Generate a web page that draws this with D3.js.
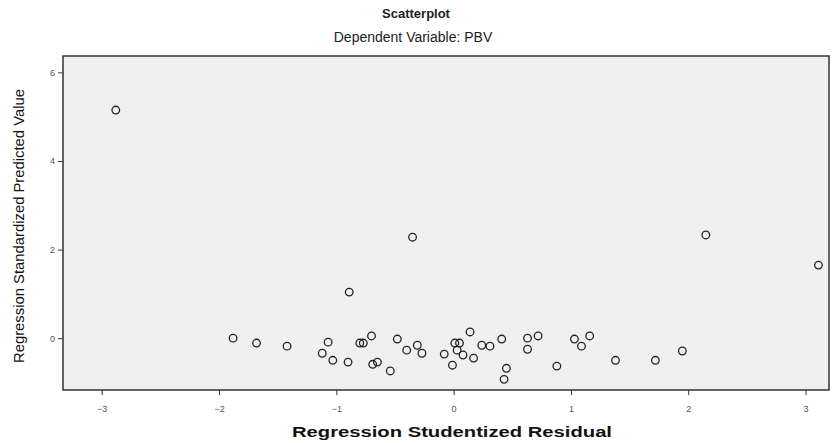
<!DOCTYPE html>
<html>
<head>
<meta charset="utf-8">
<script src="https://cdn.jsdelivr.net/npm/d3@7"></script>
<style>
  body { margin: 0; background: #fff; }
  text { font-family: "Liberation Sans", Arial, sans-serif; }
</style>
</head>
<body>
<svg id="chart" width="833" height="443"></svg>
<script>
var width = 833,
    height = 443;

// residuals (x) and predicted values (y)
var residuals = [-2.88, -0.35, 2.15, 3.11, -0.89,
    -1.88, -1.68, -1.42, -1.07, -1.12, -1.03, -0.90, -0.80, -0.77, -0.70,
    -0.69, -0.65, -0.54, -0.48, -0.40, -0.31, -0.27, -0.08, 0.01, -0.01,
    0.03, 0.08, 0.14, 0.05, 0.17, 0.24, 0.31, 0.41, 0.45, 0.43,
    0.63, 0.72, 0.63, 0.88, 1.03, 1.09, 1.16, 1.38, 1.72, 1.95];
var predicted = [5.15, 2.28, 2.33, 1.65, 1.04,
    0.00, -0.11, -0.18, -0.09, -0.34, -0.50, -0.54, -0.11, -0.11, 0.05,
    -0.59, -0.54, -0.74, -0.02, -0.27, -0.16, -0.34, -0.36, -0.11, -0.61,
    -0.27, -0.38, 0.14, -0.11, -0.45, -0.16, -0.18, -0.02, -0.68, -0.93,
    0.00, 0.05, -0.25, -0.63, -0.02, -0.18, 0.05, -0.50, -0.50, -0.29];

var xTicks = [-3, -2, -1, 0, 1, 2, 3];
var yTicks = [0, 2, 4, 6];

var points = residuals.map(function (d, i) {
    return { x: d, y: predicted[i] };
});

var plot = { left: 63, right: 829, top: 56, bottom: 390 };

var x = d3.scaleLinear().domain([-3.33, 3.2]).range([plot.left, plot.right]);
var y = d3.scaleLinear().domain([-1.17, 6.37]).range([plot.bottom, plot.top]);

var svg = d3.select('#chart');

svg.append('rect')
    .attr('x', plot.left)
    .attr('y', plot.top)
    .attr('width', plot.right - plot.left)
    .attr('height', plot.bottom - plot.top)
    .attr('fill', '#f0f0f0')
    .attr('stroke', '#333')
    .attr('stroke-width', 1.5);

// titles
svg.append('text')
    .attr('x', 416).attr('y', 18)
    .attr('text-anchor', 'middle')
    .attr('font-size', 13).attr('font-weight', 'bold')
    .attr('fill', '#222')
    .text('Scatterplot');

svg.append('text')
    .attr('x', 413).attr('y', 42)
    .attr('text-anchor', 'middle')
    .attr('font-size', 14)
    .attr('fill', '#222')
    .text('Dependent Variable: PBV');

// axes
var xAxis = d3.axisBottom(x).tickValues(xTicks).tickSize(5).tickSizeOuter(0)
    .tickFormat(d3.format('d'));
var gx = svg.append('g')
    .attr('transform', 'translate(0,' + plot.bottom + ')')
    .call(xAxis);
gx.select('.domain').remove();
gx.selectAll('line').attr('stroke', '#333');
gx.selectAll('text').attr('font-size', 9).attr('fill', '#555').attr('dy', '1.5em');

var yAxis = d3.axisLeft(y).tickValues(yTicks).tickSize(5).tickSizeOuter(0)
    .tickFormat(d3.format('d'));
var gy = svg.append('g')
    .attr('transform', 'translate(' + plot.left + ',0)')
    .call(yAxis);
gy.select('.domain').remove();
gy.selectAll('line').attr('stroke', '#333');
gy.selectAll('text').attr('font-size', 9).attr('fill', '#555');

svg.append('text')
    .attr('x', 452).attr('y', 437)
    .attr('text-anchor', 'middle')
    .attr('font-size', 14).attr('font-weight', 'bold')
    .attr('textLength', 320)
    .attr('lengthAdjust', 'spacingAndGlyphs')
    .attr('fill', '#111')
    .text('Regression Studentized Residual');

svg.append('text')
    .attr('transform', 'translate(24,226) rotate(-90)')
    .attr('text-anchor', 'middle')
    .attr('font-size', 14)
    .attr('textLength', 274)
    .attr('lengthAdjust', 'spacingAndGlyphs')
    .attr('fill', '#111')
    .style('font-family', '"Liberation Sans Narrow", "Liberation Sans", sans-serif')
    .text('Regression Standardized Predicted Value');

// points
svg.append('g')
    .selectAll('circle')
    .data(points)
    .enter()
    .append('circle')
    .attr('cx', function (d) { return x(d.x); })
    .attr('cy', function (d) { return y(d.y); })
    .attr('r', 3.8)
    .attr('fill', 'none')
    .attr('stroke', '#222')
    .attr('stroke-width', 1.3);
</script>
</body>
</html>
